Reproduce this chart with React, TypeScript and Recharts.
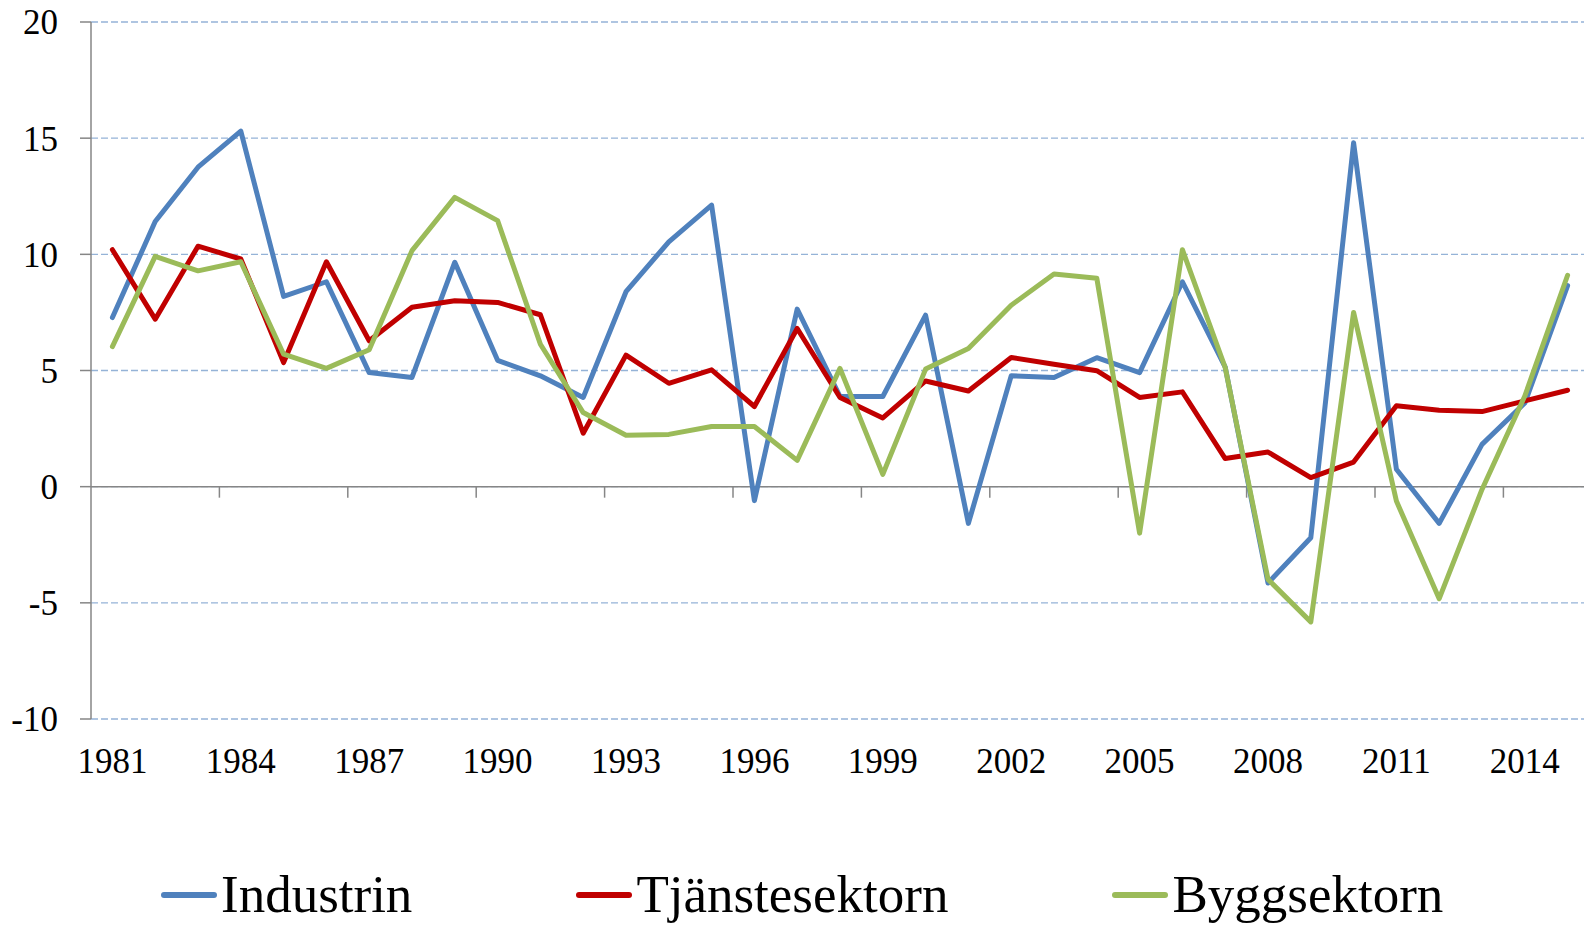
import { LineChart, Line, XAxis, YAxis, CartesianGrid, ReferenceLine } from 'recharts';

const years = [
  1981, 1982, 1983, 1984, 1985, 1986, 1987, 1988, 1989, 1990, 1991, 1992,
  1993, 1994, 1995, 1996, 1997, 1998, 1999, 2000, 2001, 2002, 2003, 2004,
  2005, 2006, 2007, 2008, 2009, 2010, 2011, 2012, 2013, 2014, 2015,
];

const industrin = [
  7.28, 11.41, 13.75, 15.3, 8.19, 8.82, 4.91, 4.7, 9.66, 5.44, 4.77, 3.84,
  8.39, 10.54, 12.12, -0.6, 7.64, 3.88, 3.88, 7.38, -1.58, 4.77, 4.7, 5.55,
  4.91, 8.82, 5.15, -4.15, -2.2, 14.8, 0.75, -1.58, 1.82, 3.6, 8.65,
];

const tjanstesektorn = [
  10.2, 7.21, 10.35, 9.8, 5.34, 9.68, 6.28, 7.72, 8.0, 7.93, 7.4, 2.3,
  5.66, 4.45, 5.03, 3.45, 6.81, 3.84, 2.96, 4.55, 4.12, 5.56, 5.27, 4.99,
  3.84, 4.08, 1.21, 1.49, 0.39, 1.06, 3.48, 3.29, 3.23, 3.69, 4.15,
];

const byggsektorn = [
  6.03, 9.91, 9.29, 9.68, 5.7, 5.09, 5.89, 10.16, 12.45, 11.45, 6.13, 3.19,
  2.21, 2.25, 2.59, 2.59, 1.13, 5.09, 0.53, 5.06, 5.95, 7.81, 9.15, 8.97,
  -2.0, 10.2, 5.13, -3.99, -5.82, 7.5, -0.62, -4.82, -0.12, 3.9, 9.1,
];

const xTickYears = [1981, 1984, 1987, 1990, 1993, 1996, 1999, 2002, 2005, 2008, 2011, 2014];
const yTicks = [-10, -5, 0, 5, 10, 15, 20];

const series = [
  { key: 'industrin', name: 'Industrin', color: '#4F81BD' },
  { key: 'tjanstesektorn', name: 'Tjänstesektorn', color: '#C00000' },
  { key: 'byggsektorn', name: 'Byggsektorn', color: '#9BBB59' },
];

const data = years.map((year, i) => ({
  year,
  industrin: industrin[i],
  tjanstesektorn: tjanstesektorn[i],
  byggsektorn: byggsektorn[i],
}));

// Excel puts the category tick marks between groups of three years
const tickMarks = xTickYears.slice(0, -1).map((y) => y + 2.5);

const FONT = '"Liberation Serif", "Times New Roman", serif';
const AXIS = '#868686';

export default function App() {
  return (
    <div
      style={{
        position: 'absolute',
        left: 0,
        top: 0,
        width: 1584,
        height: 925,
        overflow: 'hidden',
        background: '#fff',
        fontFamily: FONT,
      }}
    >
      <LineChart
        width={1605}
        height={925}
        data={data}
        margin={{ top: 22, right: 16, left: 0, bottom: 0 }}
      >
        <CartesianGrid vertical={false} stroke="#95B3D7" strokeWidth={1.3} strokeDasharray="7 3" />
        <XAxis
          dataKey="year"
          type="number"
          domain={[1980.5, 2015.5]}
          ticks={xTickYears}
          interval={0}
          axisLine={false}
          tickLine={false}
          tickSize={0}
          tickMargin={29}
          height={206}
          tick={{ fill: '#000', fontSize: 35, fontFamily: FONT }}
        />
        <YAxis
          type="number"
          domain={[-10, 20]}
          ticks={yTicks}
          interval={0}
          width={91}
          axisLine={{ stroke: AXIS, strokeWidth: 1.5 }}
          tickLine={{ stroke: AXIS, strokeWidth: 1.5 }}
          tickSize={11}
          tickMargin={22}
          tick={{ fill: '#000', fontSize: 35, fontFamily: FONT }}
        />
        <ReferenceLine y={0} stroke={AXIS} strokeWidth={1.5} />
        {tickMarks.map((t) => (
          <ReferenceLine
            key={t}
            segment={[{ x: t, y: 0 }, { x: t, y: 0 }]}
            shape={(p: any) => (
              <line x1={p.x1} y1={p.y1} x2={p.x1} y2={p.y1 + 11} stroke={AXIS} strokeWidth={1.5} />
            )}
          />
        ))}
        {series.map((s) => (
          <Line
            key={s.key}
            type="linear"
            dataKey={s.key}
            name={s.name}
            stroke={s.color}
            strokeWidth={5}
            strokeLinejoin="round"
            strokeLinecap="round"
            dot={false}
            activeDot={false}
            isAnimationActive={false}
          />
        ))}
      </LineChart>
      <div
        style={{
          position: 'absolute',
          left: 161,
          top: 868,
          height: 53,
          display: 'flex',
          alignItems: 'center',
          fontSize: 53,
          lineHeight: 1,
          color: '#000',
        }}
      >
        {series.map((s, i) => (
          <div
            key={s.key}
            style={{ display: 'flex', alignItems: 'center', marginRight: i < series.length - 1 ? 164 : 0 }}
          >
            <span
              style={{
                display: 'inline-block',
                width: 56,
                height: 6,
                borderRadius: 3,
                background: s.color,
                marginRight: 4,
              }}
            />
            <span style={{ whiteSpace: 'nowrap' }}>{s.name}</span>
          </div>
        ))}
      </div>
    </div>
  );
}
